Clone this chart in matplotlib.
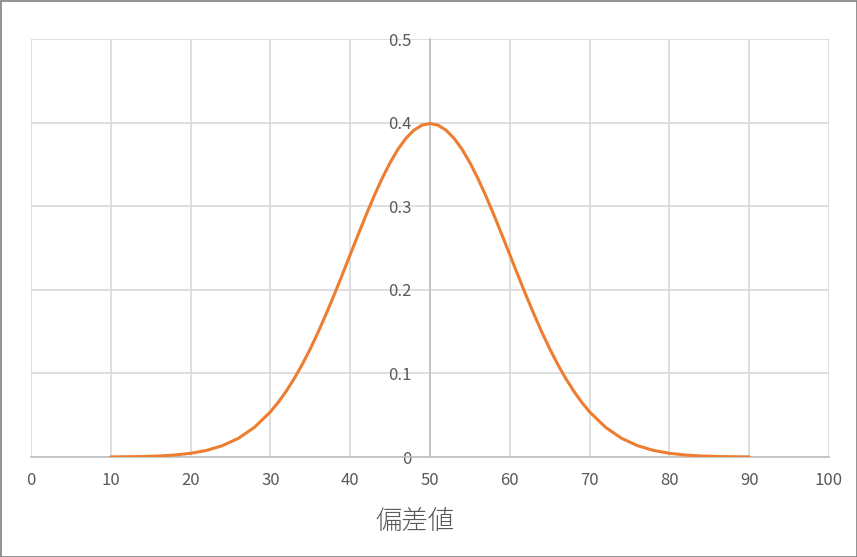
import matplotlib
matplotlib.use("Agg")
import matplotlib.pyplot as plt
from matplotlib.patches import Rectangle

plt.rcParams['font.family'] = ['Noto Sans CJK JP', 'DejaVu Sans']

# data (deviation score vs density)
x_vals = [10, 12, 14, 16, 18, 20, 22, 24, 26, 28, 30,
          31, 32, 33, 34, 35, 36, 37, 38, 39, 40,
          41, 42, 43, 44, 45, 46, 47, 48, 49, 50,
          51, 52, 53, 54, 55, 56, 57, 58, 59, 60,
          61, 62, 63, 64, 65, 66, 67, 68, 69, 70,
          72, 74, 76, 78, 80, 82, 84, 86, 88, 90]
y_vals = [0.0001, 0.0003, 0.0006, 0.0012, 0.0024, 0.0044, 0.0079, 0.0136, 0.0224, 0.0355, 0.0540,
          0.0656, 0.0790, 0.0941, 0.1109, 0.1295, 0.1497, 0.1714, 0.1942, 0.2179, 0.2420,
          0.2661, 0.2897, 0.3123, 0.3332, 0.3521, 0.3683, 0.3814, 0.3910, 0.3970, 0.3989,
          0.3970, 0.3910, 0.3814, 0.3683, 0.3521, 0.3332, 0.3123, 0.2897, 0.2661, 0.2420,
          0.2179, 0.1942, 0.1714, 0.1497, 0.1295, 0.1109, 0.0941, 0.0790, 0.0656, 0.0540,
          0.0355, 0.0224, 0.0136, 0.0079, 0.0044, 0.0024, 0.0012, 0.0006, 0.0003, 0.0001]
x_ticks = [0, 10, 20, 30, 40, 50, 60, 70, 80, 90, 100]
y_ticks = [0, 0.1, 0.2, 0.3, 0.4, 0.5]
y_tick_labels = ["0", "0.1", "0.2", "0.3", "0.4", "0.5"]
x_label = "偏差値"

fig = plt.figure(figsize=(8.57, 5.57), dpi=100)
ax = fig.add_axes([31/857, 1 - 457/557, (829 - 31)/857, (457 - 39)/557])

ax.plot(x_vals, y_vals, color='#ED7D31', lw=2.2, solid_capstyle='round',
        solid_joinstyle='round', zorder=5)

ax.set_xlim(0, 100)
ax.set_ylim(0, 0.5)
ax.set_xticks(x_ticks)
ax.set_yticks(y_ticks)
ax.set_yticklabels(y_tick_labels)
ax.grid(True, color='#d9d9d9', lw=1.2, zorder=0)
ax.set_axisbelow(True)

for s in ['top', 'right']:
    ax.spines[s].set_visible(False)
ax.spines['left'].set_position(('data', 50))
ax.spines['left'].set_color('#bfbfbf')
ax.spines['left'].set_linewidth(1.2)
ax.spines['bottom'].set_color('#bfbfbf')
ax.spines['bottom'].set_linewidth(1.2)

ax.tick_params(axis='both', length=0, labelsize=12, labelcolor='#595959')
ax.tick_params(axis='x', pad=11)
ax.tick_params(axis='y', pad=13)

ax.set_xlabel(x_label, fontsize=19, color='#595959', fontweight='light')
ax.xaxis.set_label_coords((415 - 31) / 798, (457 - 521) / 418)
ax.xaxis.label.set_verticalalignment('center')

fig.patches.append(Rectangle((0.5/857, 0.5/557), 1 - 1/857, 1 - 1/557,
                             transform=fig.transFigure, fill=False,
                             edgecolor='#7f7f7f', lw=1.2))

fig.savefig('out.png', dpi=100)
